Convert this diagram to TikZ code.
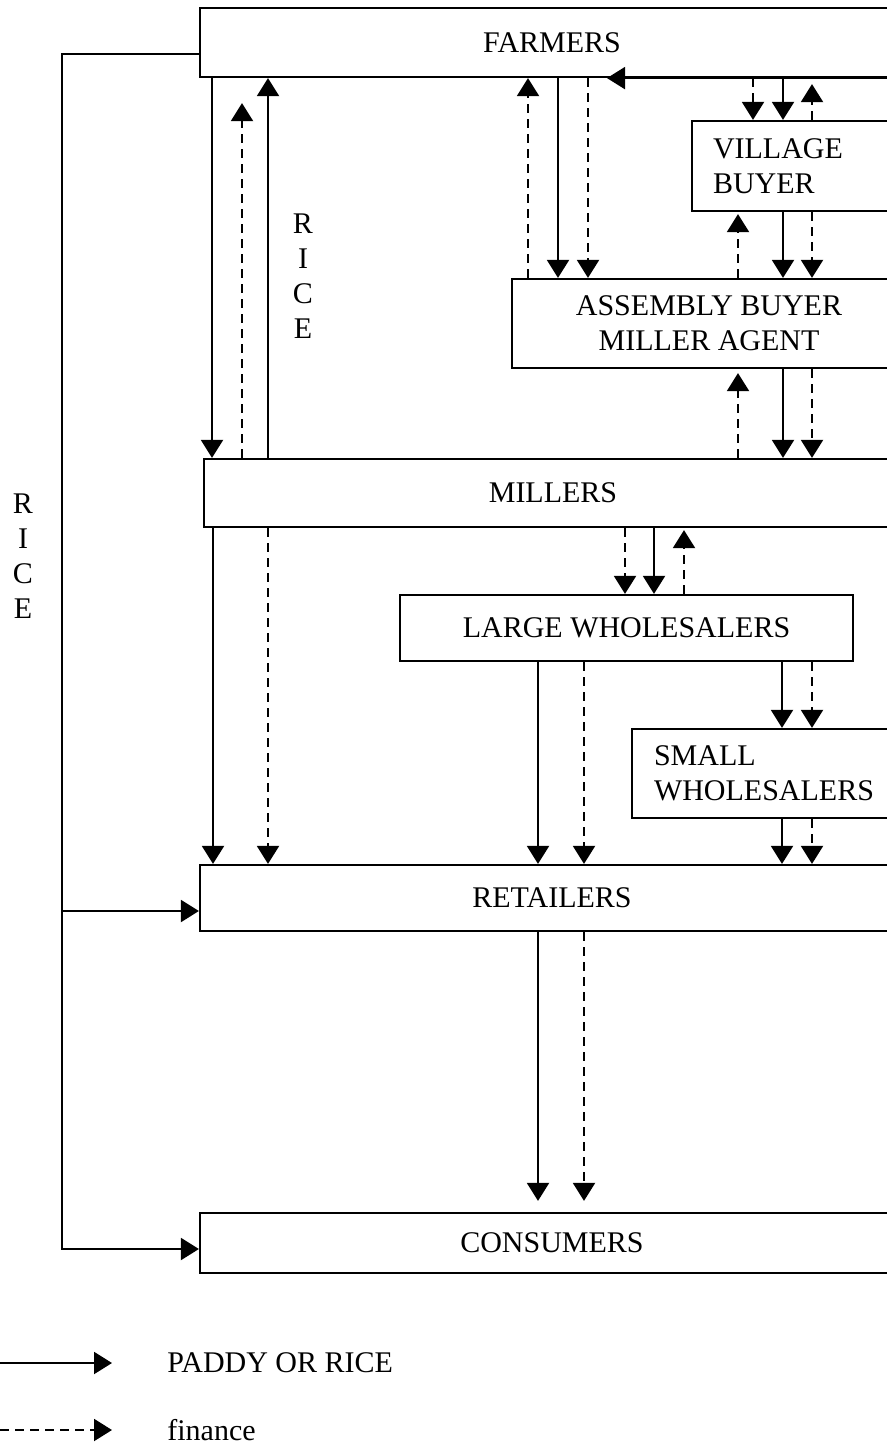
\documentclass[tikz,border=0pt]{standalone}
\usepackage{fontspec}
\setmainfont{Liberation Serif}
\usepackage{tikz}
\usetikzlibrary{arrows.meta}

\begin{document}
\begin{tikzpicture}[x=0.5pt, y=-0.5pt,
          box/.style={rectangle, draw, line width=1.1pt, inner sep=0pt, align=center,
                      font=\fontsize{15}{17.5}\selectfont},
          goods/.style={-{Triangle[length=9pt, width=11pt]}, line width=1pt},
          cash/.style={goods, dash pattern=on 4.5pt off 3pt},
          txt/.style={inner sep=0pt, font=\fontsize{15}{17.5}\selectfont}
        ]
        \useasboundingbox (0,0) rectangle (887,1451);
        \clip (0,0) rectangle (887,1451);

        \node[box, minimum width=352pt, minimum height=34.5pt] (farmers)   at (552, 42.5) {FARMERS};
        \node[box, minimum width=349pt, minimum height=34pt]   (millers)   at (553, 493)  {MILLERS};
        \node[box, minimum width=352pt, minimum height=33pt]   (retailers) at (552, 898)  {RETAILERS};
        \node[box, minimum width=352pt, minimum height=30pt]   (consumers) at (552, 1243) {CONSUMERS};

        \node[box, align=left, inner xsep=10.5pt, text width=85.5pt, minimum height=45pt]
              (village)  at (798.5, 166) {VILLAGE\\BUYER};
        \node[box, minimum width=197pt, minimum height=44.5pt]
              (assembly) at (709, 323.5) {ASSEMBLY BUYER\\MILLER AGENT};
        \node[box, minimum width=226.5pt, minimum height=33pt]
              (large)    at (626.5, 628) {LARGE WHOLESALERS};
        \node[box, align=left, inner xsep=11pt, text width=114.5pt, minimum height=44.5pt]
              (small)    at (768.5, 773.5) {SMALL\\WHOLESALERS};

        \node[txt, align=center] (ricein)  at (303, 276) {R\\I\\C\\E};
        \node[txt, align=center] (riceout) at (23, 556)  {R\\I\\C\\E};

        % farmers and millers
        \draw[goods] (farmers.south -| 212,0) -- (millers.north -| 212,0);
        \draw[cash, shorten >=12.5pt] (millers.north -| 242,0) -- (farmers.south -| 242,0);
        \draw[goods] (millers.north -| 268,0) -- (farmers.south -| 268,0);

        % farmers and assembly buyer
        \draw[cash]  (assembly.north -| 528,0) -- (farmers.south -| 528,0);
        \draw[goods] (farmers.south -| 558,0) -- (assembly.north -| 558,0);
        \draw[cash]  (farmers.south -| 588,0) -- (assembly.north -| 588,0);
        \draw[goods] (farmers.south east) -- (farmers.south -| 607,0);

        % farmers and village buyer
        \draw[cash]  (farmers.south -| 753,0) -- (village.north -| 753,0);
        \draw[goods] (farmers.south -| 783,0) -- (village.north -| 783,0);
        \draw[cash, shorten >=3pt] (village.north -| 812,0) -- (farmers.south -| 812,0);

        % village buyer and assembly buyer
        \draw[cash, shorten >=1pt] (assembly.north -| 738,0) -- (village.south -| 738,0);
        \draw[goods] (village.south -| 783,0) -- (assembly.north -| 783,0);
        \draw[cash]  (village.south -| 812,0) -- (assembly.north -| 812,0);

        % assembly buyer and millers
        \draw[cash, shorten >=2pt] (millers.north -| 738,0) -- (assembly.south -| 738,0);
        \draw[goods] (assembly.south -| 783,0) -- (millers.north -| 783,0);
        \draw[cash]  (assembly.south -| 812,0) -- (millers.north -| 812,0);

        % millers and wholesalers
        \draw[cash]  (millers.south -| 625,0) -- (large.north -| 625,0);
        \draw[goods] (millers.south -| 654,0) -- (large.north -| 654,0);
        \draw[cash, shorten >=1pt] (large.north -| 684,0) -- (millers.south -| 684,0);

        % to retailers
        \draw[goods] (millers.south -| 213,0) -- (retailers.north -| 213,0);
        \draw[cash]  (millers.south -| 268,0) -- (retailers.north -| 268,0);
        \draw[goods] (large.south -| 538,0) -- (retailers.north -| 538,0);
        \draw[cash]  (large.south -| 584,0) -- (retailers.north -| 584,0);
        \draw[goods] (large.south -| 782,0) -- (small.north -| 782,0);
        \draw[cash]  (large.south -| 812,0) -- (small.north -| 812,0);
        \draw[goods] (small.south -| 782,0) -- (retailers.north -| 782,0);
        \draw[cash]  (small.south -| 812,0) -- (retailers.north -| 812,0);

        % retailers to consumers
        \draw[goods, shorten >=5.5pt] (retailers.south -| 538,0) -- (consumers.north -| 538,0);
        \draw[cash, shorten >=5.5pt]  (retailers.south -| 584,0) -- (consumers.north -| 584,0);

        % rice straight from farmers
        \draw[goods] ([yshift=-5.75pt]farmers.west) -| (62,1249) -- ([yshift=-3pt]consumers.west);
        \draw[goods] (62,911) -- ([yshift=-6.5pt]retailers.west);

        % key
        \node[txt, anchor=west] (keygoods) at (167,1363) {PADDY OR RICE};
        \node[txt, anchor=west] (keycash)  at (167,1430) {finance};
        \coordinate (keya) at (0,1363);
        \coordinate (keyb) at (0,1430);
        \draw[goods] (keya) -- (keya -| 112,0);
        \draw[cash]  (keyb) -- (keyb -| 112,0);
      \end{tikzpicture}
\end{document}
